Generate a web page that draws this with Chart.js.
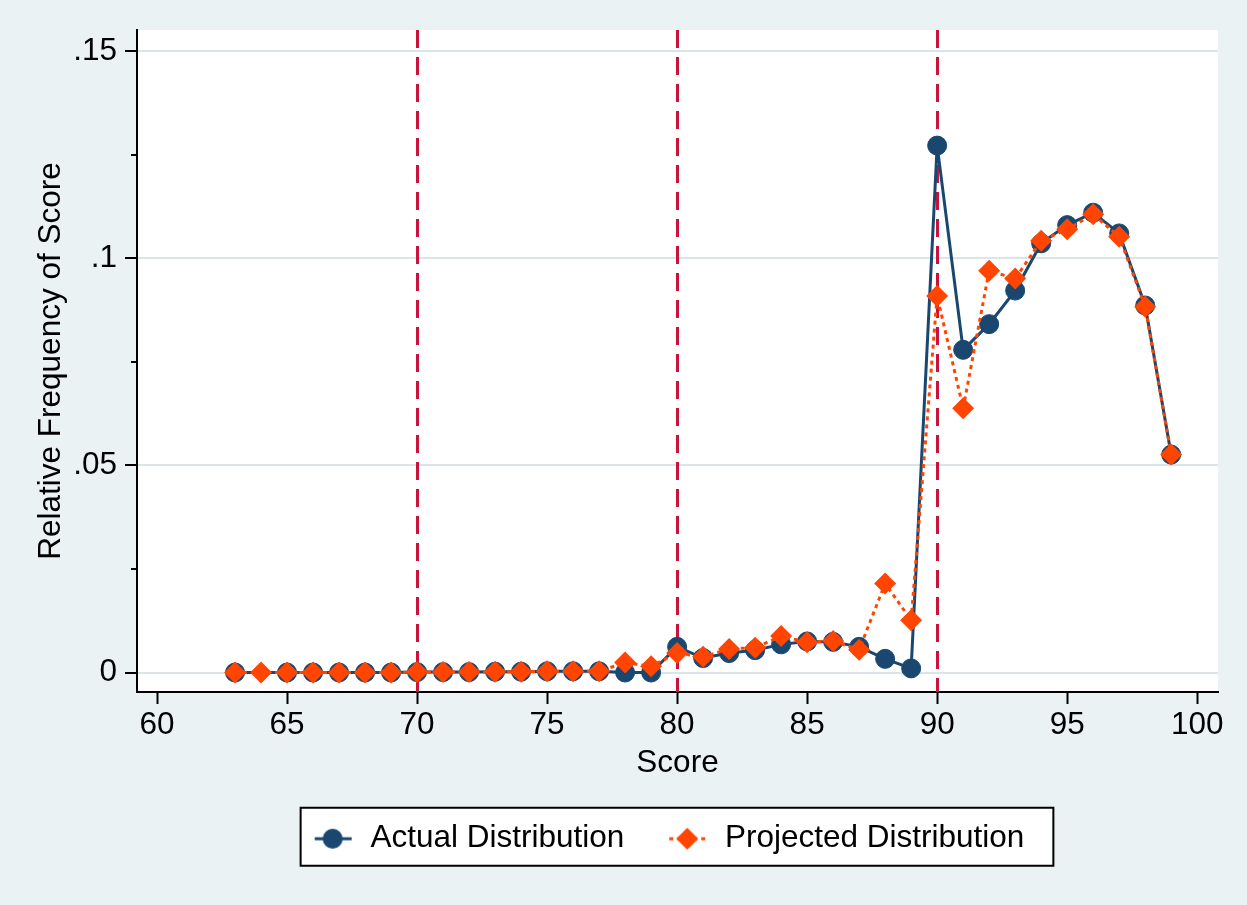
<!DOCTYPE html>
<html>
<head>
<meta charset="utf-8">
<script src="https://cdn.jsdelivr.net/npm/chart.js@4.4.1/dist/chart.umd.min.js"></script>
<style>
  html, body { margin: 0; padding: 0; background: #eaf2f3; }
  #chart { display: block; }
</style>
</head>
<body>
<canvas id="chart" width="1247" height="905"></canvas>
<script>
// scores on the x axis
var scores = [63, 64, 65, 66, 67, 68, 69, 70, 71, 72, 73, 74, 75, 76, 77, 78, 79, 80,
              81, 82, 83, 84, 85, 86, 87, 88, 89, 90, 91, 92, 93, 94, 95, 96, 97, 98, 99];

// relative frequency, actual (no observation at 64)
var actual = [0, null, 0, 0, 0, 0, 0, 0.0001, 0.0001, 0.0001, 0.0002, 0.0002, 0.0003, 0.0003, 0.0003, 0, 0, 0.0062,
              0.0035, 0.0047, 0.0054, 0.0068, 0.0075, 0.0074, 0.0062, 0.0033, 0.001, 0.1272, 0.0779, 0.0841, 0.0922, 0.1036, 0.108, 0.111, 0.106, 0.0886, 0.0526];

// relative frequency, projected
var projected = [0, 0, 0, 0, 0, 0, 0, 0.0001, 0.0001, 0.0001, 0.0002, 0.0002, 0.0003, 0.0003, 0.0003, 0.0024, 0.0015, 0.0047,
                 0.0038, 0.0057, 0.006, 0.0088, 0.0073, 0.0076, 0.0055, 0.0215, 0.0126, 0.0909, 0.0638, 0.097, 0.0951, 0.1042, 0.107, 0.1106, 0.1052, 0.0883, 0.0526];

var xTicks = [60, 65, 70, 75, 80, 85, 90, 95, 100];
var yTicks = [0, 0.05, 0.1, 0.15];
var yMinorTicks = [0.025, 0.075, 0.125];
var cutoffs = [70, 80, 90];

var NAVY = '#1a476f';
var ORANGE = '#ff4500';
var CRANBERRY = '#c8143c';
var FONT = '"Liberation Sans", Arial, Helvetica, sans-serif';
var FS = 31.5;

// little legend keys: short line with the marker on it
function legendKey(color, dashed, marker) {
    var c = document.createElement('canvas');
    c.width = 44;
    c.height = 30;
    var g = c.getContext('2d');
    g.strokeStyle = color;
    g.fillStyle = color;
    g.lineWidth = 3;
    if (dashed) g.setLineDash([4, 4]);
    g.beginPath();
    g.moveTo(4, 15);
    g.lineTo(41, 15);
    g.stroke();
    g.beginPath();
    if (marker === 'circle') {
        g.arc(22, 15, 10, 0, Math.PI * 2);
    } else {
        g.moveTo(22, 4);
        g.lineTo(33, 15);
        g.lineTo(22, 26);
        g.lineTo(11, 15);
        g.closePath();
    }
    g.fill();
    return c;
}
var legendIcons = [legendKey(NAVY, false, 'circle'), legendKey(ORANGE, true, 'diamond')];

function toPoints(values) {
    return scores.map(function(s, i) { return {x: s, y: values[i]}; });
}

function stataNum(v) {
    if (v === 0) return '0';
    return String(+v.toFixed(3)).replace(/^0\./, '.');
}

var stataPlugin = {
    id: 'stataLook',
    afterUpdate: function(chart) {
        // nudge the legend row a bit to the left, like the original
        var lg = chart.legend;
        lg.left -= 10;
        lg.right -= 10;
        (lg.legendHitBoxes || []).forEach(function(h) { h.left -= 10; });
    },
    beforeDraw: function(chart) {
        var ctx = chart.ctx, a = chart.chartArea;
        ctx.save();
        ctx.fillStyle = '#ffffff';
        ctx.fillRect(a.left, a.top, a.right - a.left, a.bottom - a.top);

        // frame round the legend
        var hb = chart.legend.legendHitBoxes;
        if (hb && hb.length) {
            var first = hb[0], last = hb[hb.length - 1];
            var cy = first.top + first.height / 2;
            var left = first.left - 10;
            var right = last.left + last.width + 29;
            ctx.fillRect(left, cy - 31, right - left, 58);
            ctx.lineWidth = 2;
            ctx.strokeStyle = '#000000';
            ctx.strokeRect(left, cy - 31, right - left, 58);
        }
        ctx.restore();
    },
    beforeDatasetsDraw: function(chart) {
        var ctx = chart.ctx, a = chart.chartArea, xs = chart.scales.x;
        ctx.save();
        ctx.strokeStyle = CRANBERRY;
        ctx.lineWidth = 3;
        ctx.setLineDash([18, 9]);
        cutoffs.forEach(function(v) {
            var px = Math.round(xs.getPixelForValue(v)) + 0.5;
            ctx.beginPath();
            ctx.moveTo(px, a.top);
            ctx.lineTo(px, a.bottom);
            ctx.stroke();
        });
        ctx.restore();
    },
    afterDraw: function(chart) {
        var ctx = chart.ctx, a = chart.chartArea, ys = chart.scales.y;
        ctx.save();
        ctx.strokeStyle = '#000000';
        ctx.lineWidth = 2;
        yMinorTicks.forEach(function(v) {
            var py = Math.round(ys.getPixelForValue(v));
            ctx.beginPath();
            ctx.moveTo(a.left - 6, py);
            ctx.lineTo(a.left, py);
            ctx.stroke();
        });
        ctx.restore();
    }
};

Chart.defaults.font.family = FONT;
Chart.defaults.color = '#000000';

new Chart(document.getElementById('chart'), {
    type: 'line',
    data: {
        datasets: [{
            label: 'Actual Distribution',
            data: toPoints(actual),
            borderColor: NAVY,
            backgroundColor: NAVY,
            borderWidth: 3,
            pointStyle: 'circle',
            pointRadius: 9.5,
            pointBorderWidth: 1,
            pointHoverRadius: 9.5,
            spanGaps: true,
            tension: 0,
            order: 1
        }, {
            label: 'Projected Distribution',
            data: toPoints(projected),
            borderColor: ORANGE,
            backgroundColor: ORANGE,
            borderWidth: 3,
            borderDash: [4, 4],
            pointStyle: 'rectRot',
            pointRadius: 11,
            pointBorderWidth: 0,
            pointHoverRadius: 11,
            tension: 0,
            order: 0
        }]
    },
    options: {
        responsive: false,
        animation: false,
        devicePixelRatio: 1,
        layout: { padding: { left: 0, top: 30, right: 29, bottom: 40.5 } },
        plugins: {
            tooltip: { enabled: false },
            legend: {
                position: 'bottom',
                fullSize: false,
                labels: {
                    usePointStyle: true,
                    pointStyleWidth: 44,
                    padding: 41,
                    color: '#000000',
                    font: { size: FS, family: FONT },
                    sort: function(a, b) { return a.datasetIndex - b.datasetIndex; },
                    generateLabels: function(chart) {
                        var items = Chart.defaults.plugins.legend.labels.generateLabels(chart);
                        items.forEach(function(it) { it.pointStyle = legendIcons[it.datasetIndex]; });
                        return items;
                    }
                }
            }
        },
        scales: {
            x: {
                type: 'linear',
                min: 59.23,
                max: 100.8,
                afterBuildTicks: function(scale) {
                    scale.ticks = xTicks.map(function(v) { return {value: v}; });
                },
                afterFit: function(scale) {
                    scale.height = 90;
                    scale.paddingLeft = 0;
                    scale.paddingRight = 0;
                },
                ticks: {
                    font: { size: FS },
                    color: '#000000',
                    padding: 2,
                    maxRotation: 0,
                    autoSkip: false,
                    callback: function(v) { return String(v); }
                },
                grid: {
                    drawOnChartArea: false,
                    drawTicks: true,
                    tickLength: 12,
                    tickColor: '#000000',
                    tickWidth: 2
                },
                border: { display: true, color: '#000000', width: 2 },
                title: {
                    display: true,
                    text: 'Score',
                    color: '#000000',
                    font: { size: FS },
                    padding: { top: 0, bottom: 0 }
                }
            },
            y: {
                type: 'linear',
                min: -0.0047,
                max: 0.1551,
                afterBuildTicks: function(scale) {
                    scale.ticks = yTicks.map(function(v) { return {value: v}; });
                },
                afterFit: function(scale) {
                    scale.width = 137;
                    scale.paddingTop = 0;
                    scale.paddingBottom = 0;
                },
                ticks: {
                    font: { size: FS },
                    color: '#000000',
                    padding: 8,
                    autoSkip: false,
                    callback: function(v) { return stataNum(v); }
                },
                grid: {
                    color: '#dae5ea',
                    lineWidth: 2,
                    drawTicks: true,
                    tickLength: 12,
                    tickColor: '#000000',
                    tickWidth: 2
                },
                border: { display: true, color: '#000000', width: 2 },
                title: {
                    display: true,
                    text: 'Relative Frequency of Score',
                    color: '#000000',
                    font: { size: FS },
                    padding: { top: 32, bottom: 0 }
                }
            }
        }
    },
    plugins: [stataPlugin]
});
</script>
</body>
</html>
